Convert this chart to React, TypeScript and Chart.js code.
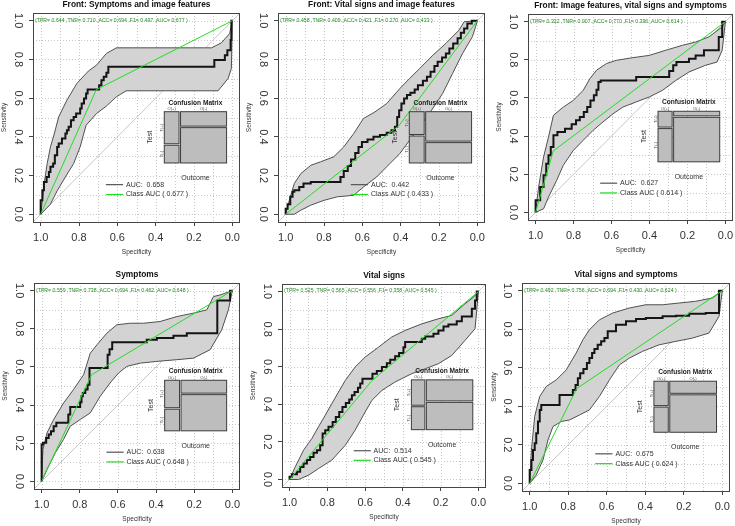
import React, { useEffect, useRef } from "react";
import { Chart, registerables } from "chart.js";

Chart.register(...registerables);

const FONT = "'Liberation Sans', Arial, Helvetica, sans-serif";

const panelTitles = [
  "Front: Symptoms and image features",
  "Front: Vital signs and image features",
  "Front: Image features, vital signs and symptoms",
  "Symptoms",
  "Vital signs",
  "Vital signs and symptoms",
];
const tprValues = [0.644, 0.458, 0.322, 0.559, 0.525, 0.492];
const tnrValues = [0.71, 0.409, 0.907, 0.738, 0.565, 0.756];
const accValues = [0.694, 0.421, 0.77, 0.694, 0.556, 0.694];
const f1Values = [0.497, 0.27, 0.396, 0.462, 0.358, 0.43];
const classAucValues = [0.677, 0.433, 0.614, 0.648, 0.545, 0.624];
const rocAucValues = [0.658, 0.442, 0.627, 0.638, 0.514, 0.675];

const axisTicks = [0, 0.2, 0.4, 0.6, 0.8, 1.0];
const gridSteps = [0, 0.1, 0.2, 0.3, 0.4, 0.5, 0.6, 0.7, 0.8, 0.9, 1.0];

type Pt = [number, number]; // [specificity, sensitivity]

// ---- Panel 1: Front: Symptoms and image features
const roc1: Pt[] = [
  [1, 0], [0.991, 0.072], [0.983, 0.124], [0.969, 0.167], [0.957, 0.193], [0.949, 0.219],
  [0.935, 0.245], [0.926, 0.262], [0.914, 0.305], [0.906, 0.348], [0.889, 0.366], [0.871, 0.391],
  [0.863, 0.417], [0.854, 0.434], [0.842, 0.452], [0.828, 0.486], [0.815, 0.503], [0.794, 0.521],
  [0.786, 0.547], [0.774, 0.572], [0.763, 0.598], [0.755, 0.624], [0.695, 0.645], [0.683, 0.667],
  [0.671, 0.693], [0.657, 0.71], [0.647, 0.731], [0.094, 0.762], [0.039, 0.797], [0.026, 0.822],
  [0.009, 0.848], [0.005, 0.9], [0, 1],
];
const ciUpper1: Pt[] = [
  [1, 0], [0.991, 0.072], [0.983, 0.15], [0.966, 0.262], [0.949, 0.348], [0.931, 0.409],
  [0.906, 0.503], [0.863, 0.59], [0.811, 0.676], [0.751, 0.74], [0.708, 0.771], [0.657, 0.831],
  [0.605, 0.86], [0.108, 0.86], [0.057, 0.886], [0.014, 0.934], [0, 1],
];
const ciLower1: Pt[] = [
  [1, 0], [0.949, 0.052], [0.914, 0.121], [0.871, 0.193], [0.828, 0.262], [0.794, 0.348],
  [0.763, 0.46], [0.708, 0.521], [0.657, 0.559], [0.605, 0.607], [0.554, 0.638], [0.074, 0.638],
  [0.022, 0.702], [0.005, 0.753], [0, 1],
];

// ---- Panel 2: Front: Vital signs and image features
const roc2: Pt[] = [
  [1, 0], [0.99, 0.029], [0.976, 0.052], [0.964, 0.09], [0.955, 0.116], [0.929, 0.124],
  [0.907, 0.141], [0.869, 0.159], [0.714, 0.167], [0.697, 0.193], [0.676, 0.224], [0.659, 0.25],
  [0.637, 0.283], [0.62, 0.317], [0.602, 0.348], [0.573, 0.374], [0.542, 0.386], [0.508, 0.4],
  [0.473, 0.409], [0.448, 0.421], [0.43, 0.434], [0.418, 0.452], [0.408, 0.503], [0.396, 0.538],
  [0.382, 0.572], [0.367, 0.598], [0.349, 0.616], [0.327, 0.628], [0.31, 0.645], [0.284, 0.667],
  [0.263, 0.69], [0.244, 0.71], [0.224, 0.736], [0.207, 0.766], [0.184, 0.788], [0.164, 0.81],
  [0.146, 0.831], [0.126, 0.857], [0.103, 0.883], [0.086, 0.909], [0.069, 0.938], [0.052, 0.96],
  [0.029, 0.986], [0.009, 1.0], [0, 1],
];
const ciUpper2: Pt[] = [
  [1, 0], [0.981, 0.072], [0.955, 0.159], [0.921, 0.21], [0.869, 0.253], [0.818, 0.271],
  [0.749, 0.297], [0.697, 0.348], [0.645, 0.417], [0.594, 0.495], [0.534, 0.529], [0.473, 0.572],
  [0.404, 0.65], [0.353, 0.702], [0.301, 0.753], [0.232, 0.822], [0.164, 0.883], [0.095, 0.952],
  [0.069, 0.995], [0, 1],
];
const ciLower2: Pt[] = [
  [1, 0], [0.955, 0], [0.921, 0.021], [0.869, 0.047], [0.8, 0.072], [0.731, 0.09],
  [0.645, 0.098], [0.594, 0.141], [0.525, 0.193], [0.456, 0.262], [0.404, 0.314], [0.353, 0.383],
  [0.301, 0.452], [0.25, 0.521], [0.181, 0.624], [0.129, 0.728], [0.077, 0.831], [0.026, 0.917],
  [0.009, 0.969], [0, 1],
];

// ---- Panel 3: Front: Image features, vital signs and symptoms
const roc3: Pt[] = [
  [1, 0], [0.976, 0.063], [0.958, 0.133], [0.944, 0.194], [0.932, 0.255], [0.92, 0.299],
  [0.906, 0.343], [0.885, 0.404], [0.845, 0.421], [0.81, 0.439], [0.787, 0.462], [0.767, 0.483],
  [0.746, 0.5], [0.728, 0.526], [0.711, 0.552], [0.693, 0.587], [0.679, 0.614], [0.669, 0.643],
  [0.657, 0.684], [0.47, 0.692], [0.296, 0.71], [0.275, 0.741], [0.258, 0.771], [0.192, 0.788],
  [0.157, 0.806], [0.113, 0.823], [0.035, 0.85], [0.017, 0.92], [0, 1],
];
const ciUpper3: Pt[] = [
  [1, 0], [0.984, 0.133], [0.958, 0.29], [0.932, 0.395], [0.906, 0.509], [0.854, 0.552],
  [0.801, 0.587], [0.749, 0.64], [0.714, 0.701], [0.679, 0.745], [0.627, 0.78], [0.575, 0.797],
  [0.488, 0.811], [0.401, 0.823], [0.314, 0.85], [0.226, 0.876], [0.157, 0.893], [0.087, 0.92],
  [0.017, 0.972], [0, 1],
];
const ciLower3: Pt[] = [
  [1, 0], [0.958, 0.019], [0.932, 0.08], [0.889, 0.168], [0.854, 0.247], [0.801, 0.325],
  [0.749, 0.378], [0.697, 0.43], [0.645, 0.474], [0.592, 0.517], [0.54, 0.552], [0.47, 0.579],
  [0.401, 0.605], [0.331, 0.64], [0.261, 0.692], [0.192, 0.736], [0.105, 0.771], [0.044, 0.788],
  [0.017, 0.85], [0, 1],
];

// ---- Panel 4: Symptoms
const roc4: Pt[] = [
  [1, 0], [0.993, 0.193], [0.976, 0.202], [0.963, 0.228], [0.951, 0.246], [0.937, 0.263],
  [0.923, 0.289], [0.86, 0.307], [0.85, 0.35], [0.798, 0.39], [0.791, 0.415], [0.784, 0.446],
  [0.771, 0.463], [0.759, 0.481], [0.749, 0.507], [0.735, 0.594], [0.654, 0.594], [0.644, 0.664],
  [0.63, 0.693], [0.606, 0.73], [0.449, 0.73], [0.396, 0.742], [0.309, 0.751], [0.239, 0.763],
  [0.169, 0.777], [0.079, 0.777], [0.073, 0.948], [0.012, 0.948], [0, 1],
];
const ciUpper4: Pt[] = [
  [1, 0], [0.993, 0.167], [0.972, 0.254], [0.937, 0.324], [0.885, 0.411], [0.833, 0.481],
  [0.78, 0.559], [0.745, 0.672], [0.71, 0.716], [0.658, 0.777], [0.606, 0.821], [0.536, 0.829],
  [0.466, 0.829], [0.379, 0.838], [0.291, 0.864], [0.204, 0.882], [0.134, 0.899], [0.099, 0.969],
  [0.065, 0.977], [0, 1],
];
const ciLower4: Pt[] = [
  [1, 0], [0.972, 0.063], [0.928, 0.15], [0.885, 0.22], [0.85, 0.289], [0.798, 0.324],
  [0.745, 0.359], [0.693, 0.446], [0.641, 0.516], [0.597, 0.568], [0.553, 0.603], [0.483, 0.62],
  [0.396, 0.629], [0.291, 0.638], [0.204, 0.646], [0.117, 0.69], [0.056, 0.794], [0.021, 0.899],
  [0, 1],
];

// ---- Panel 5: Vital signs
const roc5: Pt[] = [
  [1, 0], [0.988, 0.014], [0.961, 0.028], [0.944, 0.041], [0.926, 0.067], [0.908, 0.085],
  [0.891, 0.103], [0.873, 0.12], [0.855, 0.142], [0.838, 0.156], [0.825, 0.182], [0.811, 0.244],
  [0.794, 0.262], [0.772, 0.28], [0.755, 0.306], [0.737, 0.333], [0.72, 0.359], [0.702, 0.386],
  [0.684, 0.407], [0.67, 0.425], [0.656, 0.448], [0.638, 0.465], [0.626, 0.488], [0.614, 0.51],
  [0.6, 0.536], [0.561, 0.536], [0.538, 0.563], [0.511, 0.577], [0.485, 0.598], [0.467, 0.619],
  [0.441, 0.637], [0.42, 0.655], [0.397, 0.673], [0.388, 0.704], [0.379, 0.731], [0.3, 0.731],
  [0.282, 0.749], [0.238, 0.761], [0.212, 0.775], [0.185, 0.793], [0.159, 0.814], [0.115, 0.825],
  [0.088, 0.842], [0.071, 0.867], [0.035, 0.867], [0.018, 0.908], [0.009, 0.952], [0, 1],
];
const ciUpper5: Pt[] = [
  [1, 0], [0.97, 0.067], [0.926, 0.156], [0.882, 0.218], [0.847, 0.28], [0.811, 0.342],
  [0.776, 0.404], [0.741, 0.465], [0.705, 0.527], [0.653, 0.598], [0.6, 0.651], [0.529, 0.704],
  [0.459, 0.758], [0.388, 0.793], [0.3, 0.828], [0.212, 0.855], [0.141, 0.873], [0.071, 0.935],
  [0.026, 0.97], [0, 1],
];
const ciLower5: Pt[] = [
  [1, 0], [0.952, 0], [0.899, 0.023], [0.847, 0.058], [0.776, 0.103], [0.705, 0.182],
  [0.653, 0.262], [0.6, 0.359], [0.564, 0.421], [0.511, 0.474], [0.441, 0.519], [0.353, 0.563],
  [0.282, 0.589], [0.212, 0.616], [0.141, 0.66], [0.071, 0.74], [0.018, 0.802], [0, 1],
];

// ---- Panel 6: Vital signs and symptoms
const roc6: Pt[] = [
  [1, 0], [0.991, 0.069], [0.983, 0.121], [0.974, 0.173], [0.966, 0.208], [0.957, 0.26],
  [0.948, 0.321], [0.94, 0.381], [0.922, 0.407], [0.845, 0.407], [0.836, 0.459], [0.776, 0.459],
  [0.762, 0.485], [0.75, 0.511], [0.738, 0.546], [0.721, 0.572], [0.703, 0.593], [0.69, 0.624],
  [0.676, 0.65], [0.664, 0.676], [0.647, 0.697], [0.629, 0.719], [0.612, 0.737], [0.595, 0.754],
  [0.552, 0.789], [0.5, 0.823], [0.448, 0.841], [0.397, 0.853], [0.31, 0.858], [0.241, 0.867],
  [0.172, 0.87], [0.086, 0.88], [0.017, 0.884], [0, 1],
];
const ciUpper6: Pt[] = [
  [1, 0], [0.991, 0.173], [0.974, 0.347], [0.948, 0.451], [0.914, 0.503], [0.862, 0.537],
  [0.81, 0.589], [0.759, 0.676], [0.724, 0.745], [0.69, 0.797], [0.638, 0.849], [0.569, 0.884],
  [0.483, 0.91], [0.397, 0.927], [0.31, 0.927], [0.224, 0.936], [0.138, 0.945], [0.052, 0.962],
  [0, 1],
];
const ciLower6: Pt[] = [
  [1, 0], [0.966, 0.043], [0.931, 0.121], [0.905, 0.225], [0.879, 0.295], [0.836, 0.321],
  [0.793, 0.329], [0.741, 0.355], [0.69, 0.381], [0.638, 0.451], [0.586, 0.537], [0.534, 0.615],
  [0.483, 0.65], [0.414, 0.685], [0.328, 0.719], [0.241, 0.737], [0.155, 0.754], [0.069, 0.78],
  [0.017, 0.867], [0, 1],
];

const rocCurves = [roc1, roc2, roc3, roc4, roc5, roc6];
const ciUppers = [ciUpper1, ciUpper2, ciUpper3, ciUpper4, ciUpper5, ciUpper6];
const ciLowers = [ciLower1, ciLower2, ciLower3, ciLower4, ciLower5, ciLower6];

// ---- layout (pixels)
const CW = 245;
const CH = 263;
const panelPos = [
  [0, 0], [245, 0], [490, 0], [0, 263], [245, 263], [490, 263],
];
// plot box inside each canvas: left, top, right, bottom
const panelBox = [
  [33, 13, 240, 222],
  [33, 13, 240, 222],
  [38, 14, 243, 220],
  [34, 20, 240, 226],
  [37, 21, 241, 224],
  [32, 20, 240, 228],
];

// inset location in data units (specificity / sensitivity)
const inset = { x0: 0.355, x1: 0.03, y0: 0.265, y1: 0.53 };
const legendPos = { x0: 0.66, x1: 0.57, xt: 0.555, y0: 0.153, y1: 0.102 };

const toXY = (p: Pt[]) => p.map(([x, y]) => ({ x, y }));

function drawText(
  ctx: CanvasRenderingContext2D, s: string, x: number, y: number, font: string,
  color: string, align: CanvasTextAlign = "center", rot = 0,
) {
  ctx.save();
  ctx.translate(x, y);
  if (rot) ctx.rotate(rot);
  ctx.font = font;
  ctx.fillStyle = color;
  ctx.textAlign = align;
  ctx.textBaseline = "middle";
  ctx.fillText(s, 0, 0);
  ctx.restore();
}

function makePlugin(i: number) {
  return {
    id: "rocDecor" + i,
    beforeDatasetsDraw(chart: any) {
      const { ctx, chartArea: a, scales } = chart;
      const xs = scales.x, ys = scales.y;
      ctx.save();
      ctx.strokeStyle = "#c8c8c8";
      ctx.lineWidth = 1;
      ctx.setLineDash([1, 2]);
      for (const v of gridSteps) {
        const px = Math.round(xs.getPixelForValue(v)) + 0.5;
        ctx.beginPath(); ctx.moveTo(px, a.top); ctx.lineTo(px, a.bottom); ctx.stroke();
        const py = Math.round(ys.getPixelForValue(v)) + 0.5;
        ctx.beginPath(); ctx.moveTo(a.left, py); ctx.lineTo(a.right, py); ctx.stroke();
      }
      ctx.restore();
    },
    afterDatasetsDraw(chart: any) {
      const { ctx, chartArea: a, scales } = chart;
      const xs = scales.x, ys = scales.y;
      const X = (v: number) => xs.getPixelForValue(v);
      const Y = (v: number) => ys.getPixelForValue(v);
      // box
      ctx.save();
      ctx.strokeStyle = "#444";
      ctx.lineWidth = 1;
      ctx.strokeRect(Math.round(a.left) + 0.5, Math.round(a.top) + 0.5,
        Math.round(a.right - a.left) - 1, Math.round(a.bottom - a.top));
      ctx.restore();

      // title
      drawText(ctx, panelTitles[i], (a.left + a.right) / 2, a.top - 8.5,
        `bold 8.4px ${FONT}`, "#111");

      // metrics line
      const tpr = tprValues[i], tnr = tnrValues[i], acc = accValues[i];
      const metrics = `(TPR= ${tpr.toFixed(3)} ,TNR= ${tnr.toFixed(3)} ,ACC= ${acc.toFixed(3)} ,F1= ${f1Values[i].toFixed(3)} ,AUC= ${classAucValues[i].toFixed(3)} )`;
      drawText(ctx, metrics, a.left + 2, Y(1.0) - 0.5, `5.2px ${FONT}`, "#2a8a2a", "left");

      // legend
      ctx.save();
      ctx.lineWidth = 1.2;
      ctx.strokeStyle = "#555";
      ctx.beginPath(); ctx.moveTo(X(legendPos.x0), Y(legendPos.y0)); ctx.lineTo(X(legendPos.x1), Y(legendPos.y0)); ctx.stroke();
      ctx.strokeStyle = "#22dd22";
      ctx.beginPath(); ctx.moveTo(X(legendPos.x0), Y(legendPos.y1)); ctx.lineTo(X(legendPos.x1), Y(legendPos.y1)); ctx.stroke();
      ctx.restore();
      drawText(ctx, `AUC:  ${rocAucValues[i].toFixed(3)}`, X(legendPos.xt), Y(legendPos.y0), `7px ${FONT}`, "#333", "left");
      drawText(ctx, `Class AUC ( ${classAucValues[i].toFixed(3)} )`, X(legendPos.xt), Y(legendPos.y1), `7px ${FONT}`, "#333", "left");

      // confusion-matrix mosaic
      const prev = (tnr - acc) / (tnr - tpr);
      const L = X(inset.x0), R = X(inset.x1), T = Y(inset.y1), B = Y(inset.y0);
      const gap = 1.5;
      const w = R - L - gap, h = B - T - gap;
      const w1 = w * prev, w2 = w - w1;
      const tiles = [
        [L, T, w1, h * tpr],
        [L, T + h * tpr + gap, w1, h * (1 - tpr)],
        [L + w1 + gap, T, w2, h * (1 - tnr)],
        [L + w1 + gap, T + h * (1 - tnr) + gap, w2, h * tnr],
      ];
      ctx.save();
      ctx.fillStyle = "#bdbdbd";
      ctx.strokeStyle = "#3c3c3c";
      ctx.lineWidth = 1;
      for (const [tx, ty, tw, th] of tiles) {
        ctx.fillRect(tx, ty, tw, th);
        ctx.strokeRect(tx, ty, tw, th);
      }
      ctx.restore();
      const cx = (L + R) / 2;
      drawText(ctx, "Confusion Matrix", cx, T - 9, `bold 6.6px ${FONT}`, "#222");
      drawText(ctx, "O(+)", L + w1 / 2, T - 2.5, `4px ${FONT}`, "#444");
      drawText(ctx, "O(-)", L + w1 + gap + w2 / 2, T - 2.5, `4px ${FONT}`, "#444");
      drawText(ctx, "T(+)", L - 2.5, T + (h * tpr) / 2, `4px ${FONT}`, "#444", "center", -Math.PI / 2);
      drawText(ctx, "T(-)", L - 2.5, T + h * tpr + gap + (h * (1 - tpr)) / 2, `4px ${FONT}`, "#444", "center", -Math.PI / 2);
      drawText(ctx, "Test", L - 14, (T + B) / 2, `7px ${FONT}`, "#333", "center", -Math.PI / 2);
      drawText(ctx, "Outcome", cx, B + 15, `7px ${FONT}`, "#333");
    },
  };
}

function RocPanel({ index }: { index: number }) {
  const ref = useRef<HTMLCanvasElement | null>(null);
  useEffect(() => {
    const canvas = ref.current;
    if (!canvas) return;
    const [bl, bt, br, bb] = panelBox[index];
    const titleLH = 6.5 * 1.2;
    const ciPolygon = [...ciUppers[index], ...[...ciLowers[index]].reverse()];
    const chart = new Chart(canvas, {
      type: "line",
      data: {
        datasets: [
          {
            label: "Class AUC",
            data: toXY([[1, 0], [tnrValues[index], tprValues[index]], [0, 1]]),
            borderColor: "#22dd22",
            borderWidth: 1,
            pointRadius: 0,
            fill: false,
          },
          {
            label: "ROC",
            data: toXY(rocCurves[index]),
            borderColor: "#141414",
            borderWidth: 2,
            pointRadius: 0,
            stepped: "after",
            fill: false,
          },
          {
            label: "CI",
            data: toXY(ciPolygon),
            borderColor: "#505050",
            borderWidth: 1,
            backgroundColor: "#d3d3d3",
            pointRadius: 0,
            fill: "shape",
          },
          {
            label: "diag",
            data: toXY([[1.04, -0.04], [-0.04, 1.04]]),
            borderColor: "#c8c8c8",
            borderWidth: 1,
            pointRadius: 0,
            fill: false,
          },
        ],
      },
      options: {
        animation: false,
        responsive: false,
        maintainAspectRatio: false,
        devicePixelRatio: 1,
        events: [],
        layout: { padding: { top: bt, right: CW - br, left: 0, bottom: 0 } },
        plugins: {
          legend: { display: false },
          tooltip: { enabled: false },
          title: { display: false },
        },
        scales: {
          x: {
            type: "linear",
            reverse: true,
            min: -0.04,
            max: 1.04,
            afterBuildTicks: (s: any) => { s.ticks = axisTicks.map((v) => ({ value: v })); },
            afterFit: (s: any) => { s.height = CH - bb; },
            grid: { drawOnChartArea: false, drawTicks: true, tickLength: 4, color: "#444" },
            border: { display: false },
            ticks: {
              font: { family: FONT, size: 11 },
              color: "#333",
              padding: 5,
              maxRotation: 0,
              autoSkip: false,
              callback: (v: any) => Number(v).toFixed(1),
            },
            title: {
              display: true,
              text: "Specificity",
              color: "#333",
              font: { family: FONT, size: 6.5 },
              padding: { top: 0, bottom: Math.max(0, CH - (bb + 30.5) - titleLH / 2) },
            },
          },
          y: {
            type: "linear",
            min: -0.04,
            max: 1.04,
            afterBuildTicks: (s: any) => { s.ticks = axisTicks.map((v) => ({ value: v })); },
            afterFit: (s: any) => { s.width = bl; },
            grid: { drawOnChartArea: false, drawTicks: true, tickLength: 4, color: "#444" },
            border: { display: false },
            ticks: {
              font: { family: FONT, size: 11 },
              color: "#333",
              padding: 3.5,
              minRotation: -90,
              maxRotation: -90,
              crossAlign: "center",
              autoSkip: false,
              callback: (v: any) => Number(v).toFixed(1),
            },
            title: {
              display: true,
              text: "Sensitivity",
              color: "#333",
              font: { family: FONT, size: 6.5 },
              padding: { top: Math.max(0, bl - 29 - titleLH / 2), bottom: 0 },
            },
          },
        },
      } as any,
      plugins: [makePlugin(index)],
    });
    return () => chart.destroy();
  }, [index]);
  const [px, py] = panelPos[index];
  return (
    <canvas
      ref={ref}
      width={CW}
      height={CH}
      style={{ position: "absolute", left: px, top: py, width: CW, height: CH }}
    />
  );
}

export default function App() {
  return (
    <div style={{ position: "absolute", left: 0, top: 0, width: 735, height: 526, background: "#fff", overflow: "hidden" }}>
      {panelTitles.map((_, i) => (
        <RocPanel key={i} index={i} />
      ))}
    </div>
  );
}
